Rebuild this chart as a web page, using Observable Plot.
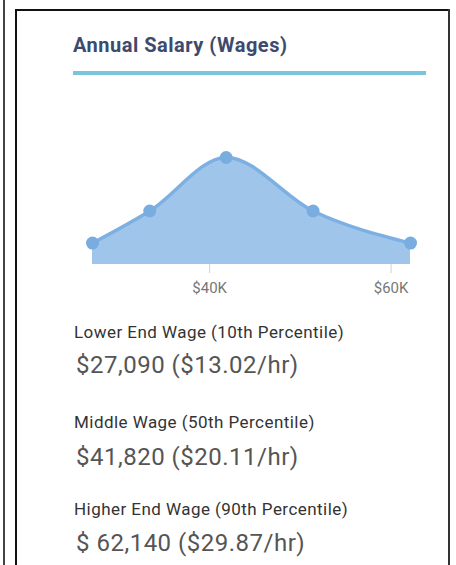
<!DOCTYPE html>
<html>
<head>
<meta charset="utf-8">
<script src="https://cdn.jsdelivr.net/npm/d3@7"></script>
<script src="https://cdn.jsdelivr.net/npm/@observablehq/plot@0.6"></script>
<style>
  html, body { margin: 0; padding: 0; background: #fff; }
  body { width: 456px; height: 565px; position: relative; overflow: hidden; font-family: Roboto, "Noto Sans", sans-serif; }
  .abs { position: absolute; white-space: nowrap; line-height: 1; }
  .title { left: 73px; top: 35px; font-size: 20px; letter-spacing: 0.5px; font-weight: bold; color: #3d4a6d; }
  .rule { position: absolute; left: 73px; top: 71px; width: 353px; height: 4px; background: #7cc3dc; }
  .lab { font-size: 17px; letter-spacing: 0.45px; color: #333; left: 74px; }
  .val { font-size: 24px; letter-spacing: 0.5px; color: #555; left: 76px; }
  #chart { position: absolute; left: 0; top: 120px; }
</style>
</head>
<body>
<div style="position:absolute;left:3px;top:0;width:2px;height:565px;background:#444"></div>
<div style="position:absolute;left:15px;top:9px;width:2px;height:560px;background:#111"></div>
<div style="position:absolute;left:15px;top:9px;width:435px;height:2px;background:#111"></div>
<div style="position:absolute;left:448px;top:9px;width:2px;height:560px;background:#333"></div>
<div class="abs title">Annual Salary (Wages)</div>
<div class="rule"></div>
<div id="chart"></div>
<div id="texts"></div>
<script>
const percentiles = [10, 25, 50, 75, 90];
const wages = [27090, 33400, 41820, 51400, 62140];
const density = [20, 50, 100, 50, 20];
const tickValues = [40000, 60000];
const tickLabels = ["$40K", "$60K"];

const labels = ["Lower End Wage (10th Percentile)", "Middle Wage (50th Percentile)", "Higher End Wage (90th Percentile)"];
const annual = ["$27,090", "$41,820", "$ 62,140"];
const hourly = ["($13.02/hr)", "($20.11/hr)", "($29.87/hr)"];

const data = percentiles.map((p, i) => ({p, wage: wages[i], d: density[i]}));

const plot = Plot.plot({
  width: 456,
  height: 180,
  marginLeft: 92,
  marginRight: 46,
  marginTop: 37,
  marginBottom: 36,
  style: {background: "transparent", fontFamily: "Roboto, sans-serif"},
  x: {domain: [wages[0], wages[wages.length - 1]], axis: null},
  y: {domain: [0, 100], axis: null},
  marks: [
    Plot.axisX({ticks: tickValues, tickFormat: (d) => tickLabels[tickValues.indexOf(d)], tickSize: 9, tickPadding: 9, stroke: "#d0d0d0", fill: "#777", fontSize: 15, label: null}),
    Plot.areaY(data, {x: "wage", y: "d", curve: "monotone-x", fill: "#a0c5ea"}),
    Plot.lineY(data, {x: "wage", y: "d", curve: "monotone-x", stroke: "#7db0e2", strokeWidth: 3.5}),
    Plot.dot(data, {x: "wage", y: "d", r: 6.5, fill: "#79ade0"})
  ]
});
document.getElementById("chart").appendChild(plot);

const labBase = [338, 428, 515];
const valBase = [373, 465, 551];
const t = document.getElementById("texts");
labels.forEach((l, i) => {
  const a = document.createElement("div");
  a.className = "abs lab";
  a.style.top = (labBase[i] - 0.842 * 17) + "px";
  a.textContent = l;
  t.appendChild(a);
  const b = document.createElement("div");
  b.className = "abs val";
  b.style.top = (valBase[i] - 0.842 * 24) + "px";
  b.textContent = annual[i] + " " + hourly[i];
  t.appendChild(b);
});
</script>
</body>
</html>
